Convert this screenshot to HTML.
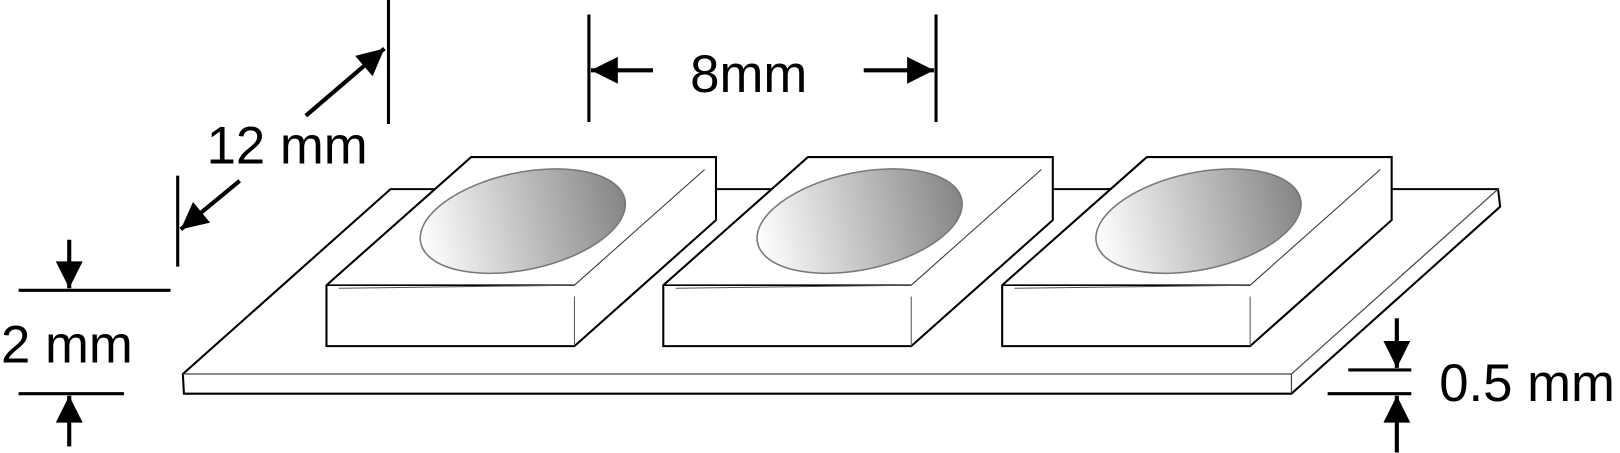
<!DOCTYPE html>
<html><head><meta charset="utf-8"><style>
html,body{margin:0;padding:0;background:#fff;}
svg{display:block;}
text{font-family:"Liberation Sans",sans-serif;font-size:51px;fill:#000;}
</style></head><body>
<svg width="1620" height="453" viewBox="0 0 1568 438.4" xmlns="http://www.w3.org/2000/svg">
<defs>
<linearGradient id="g" x1="0" y1="0" x2="1" y2="0">
<stop offset="0" stop-color="#fff"/><stop offset="1" stop-color="#858585"/>
</linearGradient>
<marker id="ah" viewBox="0 0 10 10" refX="10" refY="5" markerWidth="7" markerHeight="6.5" orient="auto" markerUnits="strokeWidth">
<path d="M0,0 L10,5 L0,10 z" fill="#000"/></marker>
<g id="blk">
<path d="M456,152 L693,152 L693,213 L556,335 L316,335 L316,276 Z" fill="#fff" stroke="#000" stroke-width="2"/>
<path d="M316,276 L556,276" fill="none" stroke="#000" stroke-width="1.5"/>
<line x1="328" y1="279" x2="556" y2="276" stroke="#555" stroke-width="1"/>
<line x1="556" y1="287" x2="556" y2="335" stroke="#555" stroke-width="1"/>
<line x1="556" y1="276" x2="682" y2="164" stroke="#333" stroke-width="1"/>
<ellipse cx="506" cy="214" rx="101" ry="47" transform="rotate(-12 506 214)" fill="url(#g)" stroke="#777" stroke-width="1.5"/>
</g>
</defs>
<path d="M177,362 L378,183 L1450,183 L1452,200 L1250,381 L178,381 Z" fill="#fff" stroke="#000" stroke-width="2"/>
<path d="M177,362 L1250,362 L1450,183 M1250,362 L1250,381" fill="none" stroke="#444" stroke-width="1.2"/>
<use href="#blk"/>
<use href="#blk" transform="translate(326,0)"/>
<use href="#blk" transform="translate(654,0)"/>
<line x1="376" y1="0" x2="376" y2="120" stroke="#000" stroke-width="3"/>
<line x1="296" y1="112" x2="372" y2="47" stroke="#000" stroke-width="4" marker-end="url(#ah)"/>
<line x1="172" y1="170" x2="172" y2="258" stroke="#000" stroke-width="3"/>
<line x1="232" y1="175" x2="175" y2="222" stroke="#000" stroke-width="4" marker-end="url(#ah)"/>
<text x="200" y="158">12 mm</text>
<line x1="570" y1="14" x2="570" y2="118" stroke="#000" stroke-width="3"/>
<line x1="906" y1="14" x2="906" y2="118" stroke="#000" stroke-width="3"/>
<line x1="632" y1="68" x2="572" y2="68" stroke="#000" stroke-width="4" marker-end="url(#ah)"/>
<line x1="836" y1="68" x2="904" y2="68" stroke="#000" stroke-width="4" marker-end="url(#ah)"/>
<text x="668" y="89">8mm</text>
<line x1="18" y1="281" x2="165" y2="281" stroke="#000" stroke-width="3"/>
<line x1="18" y1="381" x2="120" y2="381" stroke="#000" stroke-width="3"/>
<line x1="67" y1="232" x2="67" y2="279" stroke="#000" stroke-width="4" marker-end="url(#ah)"/>
<line x1="67" y1="432" x2="67" y2="383" stroke="#000" stroke-width="4" marker-end="url(#ah)"/>
<text x="1" y="351">2 mm</text>
<line x1="1305" y1="358" x2="1366" y2="358" stroke="#000" stroke-width="3"/>
<line x1="1285" y1="381" x2="1366" y2="381" stroke="#000" stroke-width="3"/>
<line x1="1352" y1="308" x2="1352" y2="356" stroke="#000" stroke-width="4" marker-end="url(#ah)"/>
<line x1="1352" y1="438" x2="1352" y2="383" stroke="#000" stroke-width="4" marker-end="url(#ah)"/>
<text x="1393" y="388">0.5 mm</text>
</svg>
</body></html>
